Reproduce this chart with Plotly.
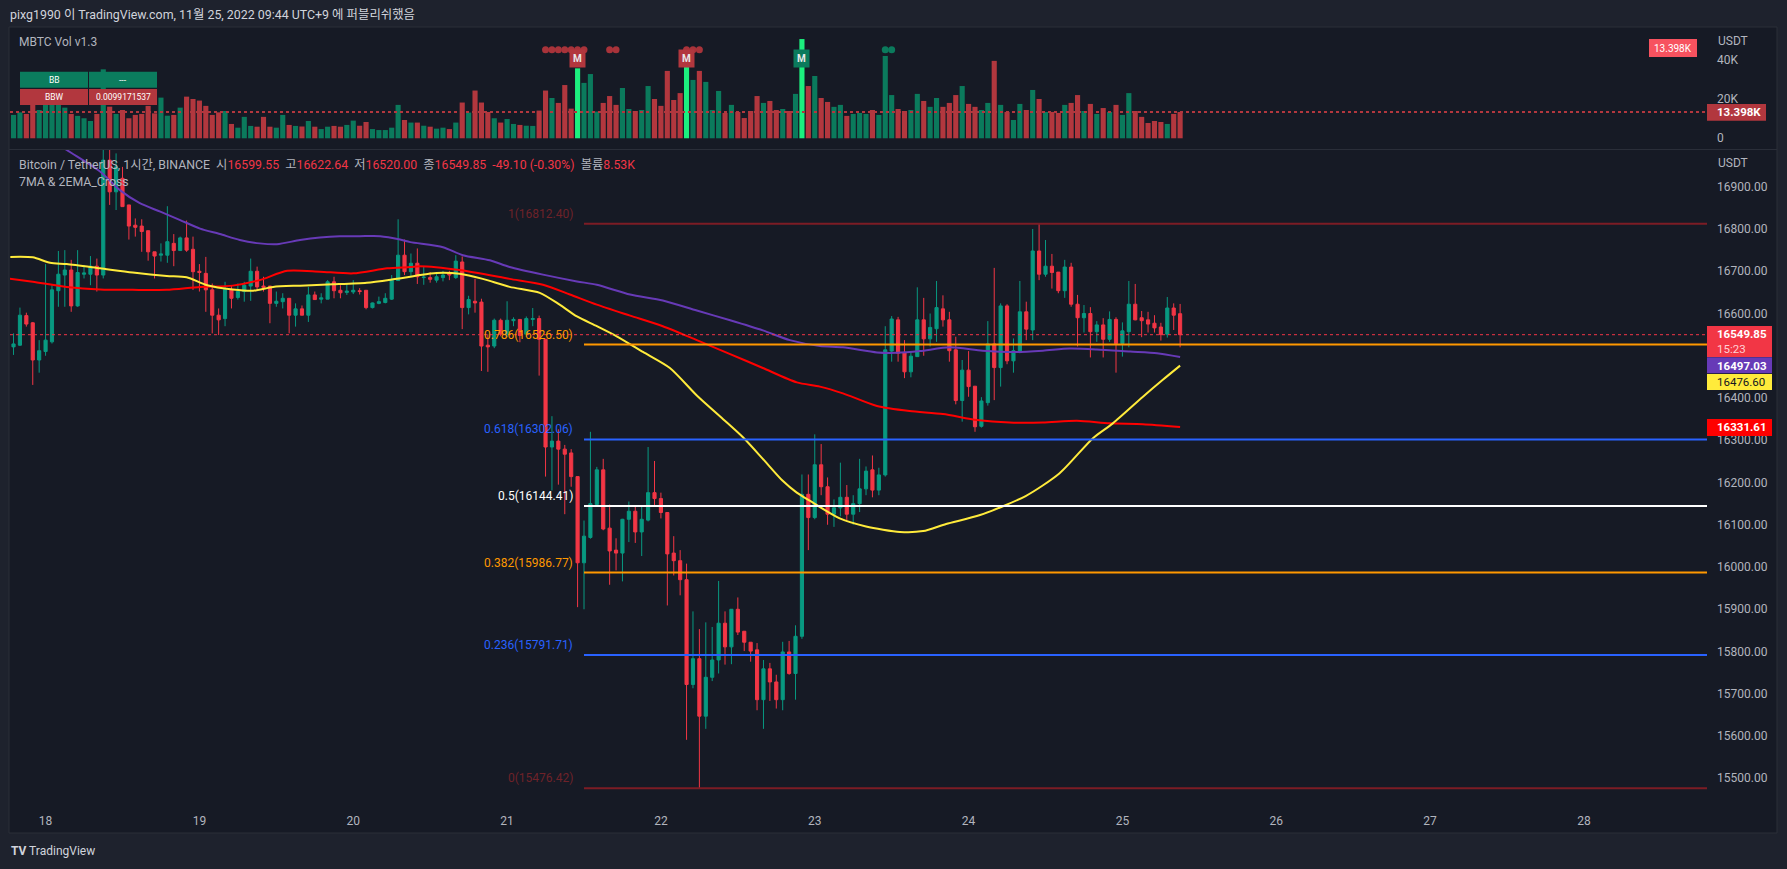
import plotly.graph_objects as go
import pandas as pd

W, H = 1787, 869
def xp(px): return px / W
def yp(py): return 1 - py / H

# ---------------- data ----------------
start = pd.Timestamp("2022-11-17 19:00")

opens = [16521,16525,16595,16578,16490,16510,16533,16654,16691,16703,16618,16693,16693,16712,16691,16963,16888,16920,16857,16809,
         16807,16796,16746,16738,16738,16766,16749,16779,16752,16700,16695,16656,16596,16588,16657,16638,16652,16665,16700,16665,
         16665,16624,16628,16636,16596,16611,16596,16644,16634,16634,16675,16655,16650,16651,16654,16655,16614,16624,16626,16634,
         16678,16738,16699,16719,16685,16685,16679,16685,16696,16685,16722,16614,16629,16627,16525,16523,16584,16551,16583,16586,
         16551,16586,16588,16539,16284,16298,16279,16270,16214,16010,16070,16148,16230,16092,16040,16033,16113,16132,16083,16111,
         16176,16162,16129,16033,16015,15970,15722,15783,15647,15739,15780,15867,15811,15900,15848,15822,15804,15686,15759,15728,
         15686,15799,15748,15836,16172,16117,16242,16190,16125,16140,16165,16125,16150,16185,16230,16182,16218,16511,16585,16508,
         16462,16498,16585,16540,16564,16611,16585,16514,16394,16466,16428,16333,16389,16528,16472,16618,16488,16510,16604,16561,
         16748,16693,16712,16698,16654,16710,16622,16590,16600,16557,16573,16539,16586,16529,16557,16622,16590,16585,16577,16568,
         16551,16613,16599.55]
highs = [16553,16614,16602,16580,16537,16717,16667,16748,16750,16727,16750,16715,16736,16730,16987,16987,16979,16947,16857,16825,
         16823,16796,16746,16766,16854,16788,16782,16820,16782,16717,16734,16671,16612,16675,16665,16671,16675,16730,16711,16687,
         16665,16652,16648,16636,16624,16619,16663,16652,16648,16679,16687,16667,16670,16679,16660,16655,16626,16640,16648,16691,
         16823,16775,16742,16754,16710,16698,16698,16701,16701,16738,16735,16642,16682,16635,16551,16588,16588,16629,16591,16586,
         16593,16613,16595,16539,16357,16326,16289,16279,16214,16110,16320,16237,16256,16148,16068,16114,16155,16145,16143,16284,
         16251,16176,16129,16073,16040,16008,15895,15853,15869,15858,15967,15895,15900,15928,15848,15822,15820,15780,15773,15745,
         15823,15825,15862,16219,16219,16314,16291,16212,16160,16247,16194,16170,16256,16238,16264,16235,16570,16594,16592,16537,
         16510,16662,16637,16600,16677,16643,16604,16545,16490,16511,16428,16402,16582,16708,16624,16622,16541,16677,16628,16800,
         16812.4,16774,16741,16698,16727,16720,16644,16620,16615,16582,16589,16605,16591,16579,16677,16670,16606,16604,16596,16578,
         16639,16624,16622.64]
lows = [16502,16523,16569,16431,16460,16500,16529,16616,16616,16604,16616,16683,16667,16652,16683,16857,16845,16853,16775,16782,
        16746,16725,16683,16723,16720,16712,16748,16746,16656,16652,16604,16553,16549,16570,16612,16633,16628,16630,16655,16652,
        16577,16616,16612,16553,16569,16596,16580,16632,16624,16634,16636,16636,16644,16646,16645,16610,16612,16622,16624,16632,
        16678,16691,16687,16670,16668,16673,16673,16676,16679,16682,16563,16598,16602,16464,16462,16518,16546,16544,16570,16532,
        16544,16570,16453,16214,16181,16195,16125,16190,15905,15900,16067,16143,16087,15958,15992,15966,16059,16057,16026,16108,
        16143,16115,15909,15980,15933,15591,15713,15476.42,15617,15730,15748,15769,15770,15839,15801,15776,15661,15617,15683,15665,
        15661,15745,15686,15830,16040,16113,16170,16100,16095,16120,16110,16100,16130,16170,16165,16170,16214,16486,16486,16447,
        16449,16498,16500,16522,16533,16569,16486,16385,16344,16403,16320,16330,16382,16395,16427,16480,16460,16506,16537,16537,
        16679,16687,16659,16648,16637,16616,16522,16555,16496,16533,16496,16533,16460,16498,16520,16584,16544,16555,16555,16536,
        16543,16561,16520.00]
closes = [16528,16596,16575,16490,16512,16537,16656,16693,16703,16618,16697,16696,16712,16691,16963,16888,16947,16853,16807,16804,
          16794,16746,16736,16741,16770,16749,16779,16750,16699,16697,16656,16596,16585,16657,16636,16652,16667,16700,16663,16662,
          16624,16629,16636,16596,16611,16596,16644,16633,16637,16675,16654,16649,16653,16655,16652,16614,16625,16628,16636,16679,
          16738,16699,16719,16687,16686,16681,16687,16691,16691,16724,16614,16633,16625,16523,16521,16584,16551,16584,16586,16548,
          16588,16588,16539,16284,16298,16279,16267,16214,16010,16073,16150,16230,16090,16038,16033,16113,16132,16083,16113,16176,
          16162,16129,16031,16015,15970,15722,15783,15647,15739,15780,15867,15811,15900,15846,15822,15801,15686,15759,15728,15686,
          15799,15748,15836,16172,16117,16242,16190,16125,16140,16165,16125,16150,16185,16227,16182,16218,16514,16587,16506,16462,
          16499,16585,16540,16567,16614,16585,16512,16394,16466,16427,16332,16393,16528,16472,16618,16488,16512,16604,16563,16748,
          16693,16712,16697,16654,16710,16622,16590,16600,16557,16573,16539,16586,16529,16559,16622,16585,16583,16575,16566,16550,
          16613,16596,16549.85]

volume_k = [11.9,13.2,12.4,19,14.4,18.2,19.5,17.8,15.6,12.4,11.4,10.2,8.8,12.4,35.1,16.1,12.4,14.4,10.2,11.9,
            12.4,16.5,12.7,20.7,11.5,11.9,15.6,21.2,20,19.2,16.5,11.9,13.2,13.9,7.3,5.4,10.9,6.3,5.9,10.9,
            5.9,5.4,11.9,6.8,6.3,6.0,8.8,5.9,4.7,5.9,6.3,5.9,6.8,9.0,6.4,8.3,4.7,4.2,4.2,5.4,
            17,9.3,8,8,6.4,5.9,4.9,5.4,4.7,8,18.2,13.1,24.3,18.2,13.4,10.2,8,9.8,7.3,6.8,
            6.4,6.3,14.1,24.3,20.5,18,27.1,15.1,35.6,28.2,32.7,13.6,18.0,21.5,17.0,25.6,14.9,13.9,14.4,26.6,
            20.0,16.5,34.3,19.5,23.0,36.5,29.7,34.3,28.7,14.4,24.1,12.9,17.0,13.4,10.3,13.9,21.5,18.0,19.0,14.4,
            14.9,13.9,22.6,50.5,26.6,31.7,20.5,18.5,16.0,17.0,11.4,12.4,12.9,12.4,14.4,11.9,41.9,22.0,14.9,13.9,
            14.4,22.6,19.0,16.0,20.5,16.0,18.0,22.0,26.6,17.5,16.0,14.4,18.0,39.4,17.0,13.4,9.3,17.5,14.4,24.6,
            20.0,13.4,13.4,12.9,17.0,18.0,22.0,13.9,17.5,12.4,15.4,13.4,17.0,11.9,23.0,13.9,10.9,7.8,8.8,8.3,
            7.3,12.4,13.398]
signal_bars = [88, 105, 123]
red_dots = [83, 84, 85, 86, 87, 88, 89, 93, 94, 105, 106, 107]
green_dots = [136, 137]
m_red = [88, 105]
m_green = [123]
dot_level_k = 45
m_level_k = 40.4

# moving averages (hour offset from start, value)
ema_fast_h = [-0.5,3,5.7,8.3,13.5,18.6,23.9,27,30.2,34.2,37.4,40.5,44.7,49.8,55.1,59.2,61.9,63.4,66,69.6,
              73.2,77.4,82.1,85.2,87.9,91,94.1,98.2,102.4,106.6,110.7,113.8,116.9,120,122.2,124.2,128.9,133,138.3,141.9,
              145.5,150.8,157.9,163.2,168.4,171.5,176.2,179.3,182]
ema_fast_v = [16734,16733,16720,16717,16707,16697,16689,16686,16667,16657,16654,16663,16666,16669,16673,16681,16687,16691,16696,16694,
              16682,16663,16649,16621,16593,16570,16546,16509,16471,16406,16350,16307,16256,16204,16176,16157,16115,16096,16083,16085,
              16102,16123,16168,16222,16305,16340,16403,16443,16476.60]
ema_mid_h = [-1,3,8.3,13.5,18.6,23.9,29.1,34.2,38.4,42.7,47.8,53,58.3,61.9,63.4,69.6,77.4,82.6,86.8,91,
             96.2,101.3,106.6,111.8,116.9,122.2,125.8,129.4,134.7,139.8,145,150.3,155.4,160.6,165.9,171,176.2,182]
ema_mid_v = [16683,16675,16663,16657,16656,16656,16663,16666,16679,16701,16699,16695,16707,16710,16712,16703,16682,16668,16645,16621,
             16595,16570,16537,16504,16471,16437,16427,16411,16381,16369,16362,16348,16342,16342,16346,16340,16338,16331.61]
ma_slow_h = [4,8.3,13.5,16.6,19.7,22.9,26,29.1,32.2,35.3,38.4,41.1,44.7,47.8,50.9,54,57.2,60.3,61.9,67,
             70.1,74.3,77.4,82.6,87.9,91,96.2,101.3,106.6,111.8,116.9,121.1,125.8,129.4,134.7,137.8,141.4,146.1,151.2,156.5,
             160.6,164.8,169,174.2,178.4,182]
ma_slow_v = [17030,16987,16936,16892,16861,16841,16821,16801,16788,16774,16766,16764,16774,16780,16783,16783,16783,16775,16769,16757,
             16738,16726,16710,16692,16676,16668,16645,16631,16607,16584,16560,16537,16523,16520,16508,16507,16511,16520,16512,16509,
             16512,16517,16515,16510,16506,16497.03]

fib_ratio = ["1", "0.786", "0.618", "0.5", "0.382", "0.236", "0"]
fib_price = [16812.40, 16526.50, 16302.06, 16144.41, 15986.77, 15791.71, 15476.42]
fib_color = ["#7c1c25", "#ff9800", "#2962ff", "#ffffff", "#ff9800", "#2962ff", "#7c1c25"]
fib_label_color = ["#6e2229", "#ff9800", "#2962ff", "#ffffff", "#ff9800", "#2962ff", "#6e2229"]
fib_start_h = 89

day_ticks = ["2022-11-%02d" % d for d in range(18, 29)]
day_labels = [str(d) for d in range(18, 29)]
# 16500 is hidden behind the price labels in the reference
price_ticks = [15500, 15600, 15700, 15800, 15900, 16000, 16100, 16200, 16300, 16400, 16600, 16700, 16800, 16900]
vol_ticks = [0, 20, 40]
vol_tick_labels = ["0", "20K", "40K"]

last_close = closes[-1]

# ---------------- helpers ----------------
def t_at(h):
    return start + pd.Timedelta(hours=h)

times = pd.date_range(start, periods=len(opens), freq="h")
x_lo, x_hi = t_at(-0.55), t_at(264.2)

UP, DN = "#089981", "#f23645"
VUP, VDN, VSIG = "#0b7a5c", "#b2373e", "#1cf07e"
BG_OUT, BG_IN, BORDER = "#1e222d", "#161a25", "#2a2e39"
TXT = "#b2b5be"
FONT = "Roboto, Noto Sans CJK KR, sans-serif"

vol_colors = []
for i, (o, c) in enumerate(zip(opens, closes)):
    if i in signal_bars:
        vol_colors.append(VSIG)
    else:
        vol_colors.append(VUP if c >= o else VDN)

fig = go.Figure()

fig.add_trace(go.Bar(x=times, y=volume_k, marker=dict(color=vol_colors, line=dict(width=0)),
                     width=0.8 * 3600 * 1000, xaxis="x", yaxis="y2", hoverinfo="skip", showlegend=False))
fig.add_trace(go.Scatter(x=[times[i] for i in red_dots], y=[dot_level_k] * len(red_dots), mode="markers",
                         marker=dict(color="#a8333a", size=7), xaxis="x", yaxis="y2", hoverinfo="skip", showlegend=False))
fig.add_trace(go.Scatter(x=[times[i] for i in green_dots], y=[dot_level_k] * len(green_dots), mode="markers",
                         marker=dict(color="#0b7a5c", size=7), xaxis="x", yaxis="y2", hoverinfo="skip", showlegend=False))

fig.add_trace(go.Candlestick(x=times, open=opens, high=highs, low=lows, close=closes,
                             increasing=dict(line=dict(color=UP, width=1), fillcolor=UP),
                             decreasing=dict(line=dict(color=DN, width=1), fillcolor=DN),
                             whiskerwidth=0, xaxis="x", yaxis="y", hoverinfo="skip", showlegend=False))

for hs, vs, col in [(ma_slow_h, ma_slow_v, "#673ab7"), (ema_mid_h, ema_mid_v, "#ff0000"), (ema_fast_h, ema_fast_v, "#ffeb3b")]:
    fig.add_trace(go.Scatter(x=[t_at(h) for h in hs], y=vs, mode="lines",
                             line=dict(color=col, width=2, shape="spline", smoothing=0.7),
                             xaxis="x", yaxis="y", hoverinfo="skip", showlegend=False))

shapes = []
annotations = []

# chart frame background
shapes.append(dict(type="rect", xref="paper", yref="paper", x0=xp(9), x1=xp(1777), y0=yp(833), y1=yp(27),
                   fillcolor=BG_IN, line=dict(color=BORDER, width=1), layer="below"))
shapes.append(dict(type="line", xref="paper", yref="paper", x0=xp(9), x1=xp(1777), y0=yp(149.5), y1=yp(149.5),
                   line=dict(color=BORDER, width=1), layer="below"))

# fib lines + labels
for r_, p, c, lc in zip(fib_ratio, fib_price, fib_color, fib_label_color):
    shapes.append(dict(type="line", xref="x", yref="y", x0=t_at(fib_start_h), x1=x_hi, y0=p, y1=p,
                       line=dict(color=c, width=2), layer="above"))
    annotations.append(dict(xref="x", yref="y", x=t_at(fib_start_h), y=p, xanchor="right", yanchor="middle",
                            xshift=-9, yshift=10, showarrow=False, text=f"{r_}({p:.2f})",
                            font=dict(family=FONT, size=12, color=lc)))

# last price dotted line
shapes.append(dict(type="line", xref="paper", yref="y", x0=xp(10), x1=xp(1707), y0=last_close, y1=last_close,
                   line=dict(color=DN, width=1, dash="dot"), layer="above"))
# volume dotted line
shapes.append(dict(type="line", xref="paper", yref="y2", x0=xp(10), x1=xp(1707), y0=volume_k[-1], y1=volume_k[-1],
                   line=dict(color=VDN, width=2, dash="dot"), layer="above"))

# price axis value boxes
def value_box(yref, val, off_top, off_bot, color, x1=1772):
    shapes.append(dict(type="rect", xref="paper", yref=yref, x0=xp(1707), x1=xp(x1),
                       ysizemode="pixel", yanchor=val, y0=off_bot, y1=off_top,
                       fillcolor=color, line=dict(width=0), layer="above"))

def value_text(yref, val, text, yshift, color, bold=True, size=11.5):
    annotations.append(dict(xref="paper", yref=yref, x=xp(1716), y=val, xanchor="left", yanchor="middle",
                            yshift=yshift, showarrow=False, borderpad=0, text=(f"<b>{text}</b>" if bold else text),
                            font=dict(family=FONT, size=size, color=color)))

value_box("y", last_close, 8.7, -22.3, DN)
value_text("y", last_close, f"{last_close:.2f}", 0.5, "#ffffff")
value_text("y", last_close, "15:23", -14.0, "#ffd0d4", bold=False)
value_box("y", ma_slow_v[-1], -0.3, -16.3, "#673ab7")
value_text("y", ma_slow_v[-1], f"{ma_slow_v[-1]:.2f}", -8.6, "#ffffff")
value_box("y", ema_fast_v[-1], -8.3, -24.3, "#ffeb3b")
value_text("y", ema_fast_v[-1], f"{ema_fast_v[-1]:.2f}", -16.3, "#131722", bold=False)
value_box("y", ema_mid_v[-1], 8, -9, "#ff0000")
value_text("y", ema_mid_v[-1], f"{ema_mid_v[-1]:.2f}", -0.5, "#ffffff")
value_box("y2", volume_k[-1], 8, -8.7, VDN, x1=1766)
value_text("y2", volume_k[-1], f"{volume_k[-1]:.3f}K", -0.3, "#ffffff")

# top-right indicator value box in volume pane
shapes.append(dict(type="rect", xref="paper", yref="paper", x0=xp(1649), x1=xp(1697), y0=yp(57), y1=yp(39),
                   fillcolor="#f7525f", line=dict(width=0), layer="above"))
annotations.append(dict(xref="paper", yref="paper", x=xp(1673), y=yp(48), xanchor="center", yanchor="middle",
                        showarrow=False, text=f"{volume_k[-1]:.3f}K", font=dict(family=FONT, size=10, color="#ffffff")))

# M signal labels
for idxs, col in [(m_red, "#b2373e"), (m_green, "#0b7a5c")]:
    for i in idxs:
        annotations.append(dict(xref="x", yref="y2", x=times[i], y=m_level_k, showarrow=False, text="<b>M</b>",
                                bgcolor=col, borderpad=3, font=dict(family=FONT, size=10, color="#e8e8e8")))

# BB / BBW table
cells = [(20, 88, 71.7, 87.7, "#0b7d5e", "BB"), (89, 157, 71.7, 87.7, "#0b7d5e", "---"),
         (20, 88, 89, 105, "#b2373e", "BBW"), (89, 157, 89, 105, "#b2373e", "0.0099171537")]
for x0, x1, y0, y1, col, txt in cells:
    shapes.append(dict(type="rect", xref="paper", yref="paper", x0=xp(x0), x1=xp(x1), y0=yp(y1), y1=yp(y0),
                       fillcolor=col, line=dict(width=0), layer="above"))
    annotations.append(dict(xref="paper", yref="paper", x=xp((x0 + x1) / 2), y=yp((y0 + y1) / 2),
                            xanchor="center", yanchor="middle", showarrow=False, text=txt,
                            font=dict(family=FONT, size=8.5, color="#ffffff")))

# header texts
annotations.append(dict(xref="paper", yref="paper", x=xp(8), y=yp(14), xanchor="left", yanchor="middle",
                        showarrow=False, text="pixg1990 이 TradingView.com, 11월 25, 2022 09:44 UTC+9 에 퍼블리쉬했음",
                        font=dict(family=FONT, size=12.4, color="#d1d4dc")))
annotations.append(dict(xref="paper", yref="paper", x=xp(17), y=yp(42), xanchor="left", yanchor="middle",
                        showarrow=False, text="MBTC Vol v1.3", font=dict(family=FONT, size=12, color=TXT)))
sp = "\u00a0"
r = lambda s: f"<span style='color:{DN}'>{s}</span>"
hdr = (f"Bitcoin / TetherUS, 1시간, BINANCE{sp}{sp}시{r(f'{opens[-1]:.2f}')}{sp}{sp}고{r(f'{highs[-1]:.2f}')}"
       f"{sp}{sp}저{r(f'{lows[-1]:.2f}')}{sp}{sp}종{r(f'{closes[-1]:.2f}')}{sp}{sp}{r('-49.10 (-0.30%)')}{sp}{sp}볼륨{r('8.53K')}")
annotations.append(dict(xref="paper", yref="paper", x=xp(17), y=yp(165), xanchor="left", yanchor="middle",
                        showarrow=False, text=hdr, font=dict(family=FONT, size=12.3, color=TXT)))
annotations.append(dict(xref="paper", yref="paper", x=xp(17), y=yp(182), xanchor="left", yanchor="middle",
                        showarrow=False, text="7MA & 2EMA_Cross", font=dict(family=FONT, size=12.3, color=TXT)))
for yy in (41, 163):
    annotations.append(dict(xref="paper", yref="paper", x=xp(1716), y=yp(yy), xanchor="left", yanchor="middle",
                            showarrow=False, text="USDT", font=dict(family=FONT, size=12, color=TXT)))
annotations.append(dict(xref="paper", yref="paper", x=xp(9), y=yp(851), xanchor="left", yanchor="middle",
                        showarrow=False, text="<b>TV</b> TradingView", font=dict(family=FONT, size=12, color="#d1d4dc")))

fig.update_layout(
    width=W, height=H, margin=dict(l=0, r=0, t=0, b=0),
    paper_bgcolor=BG_OUT, plot_bgcolor=BG_IN, showlegend=False, bargap=0.2,
    xaxis=dict(domain=[xp(10), xp(1707)], anchor="y", type="date", range=[x_lo, x_hi],
               tickvals=day_ticks, ticktext=day_labels, showgrid=False, zeroline=False, showline=False,
               ticks="", ticklabelstandoff=5, tickfont=dict(family=FONT, size=12, color=TXT),
               rangeslider=dict(visible=False)),
    yaxis=dict(domain=[yp(807), yp(150)], anchor="x", side="right", range=[15432, 16987],
               tickvals=price_ticks, tickformat=".2f", showgrid=False, zeroline=False, showline=False,
               ticks="", ticklabelstandoff=9, tickfont=dict(family=FONT, size=12, color=TXT)),
    yaxis2=dict(domain=[yp(149), yp(27)], anchor="x", side="right", range=[-5.45, 56.64],
                tickvals=vol_ticks, ticktext=vol_tick_labels, showgrid=False, zeroline=False, showline=False,
                ticks="", ticklabelstandoff=9, tickfont=dict(family=FONT, size=12, color=TXT)),
    shapes=shapes, annotations=annotations,
)

fig.write_html("out.html")
